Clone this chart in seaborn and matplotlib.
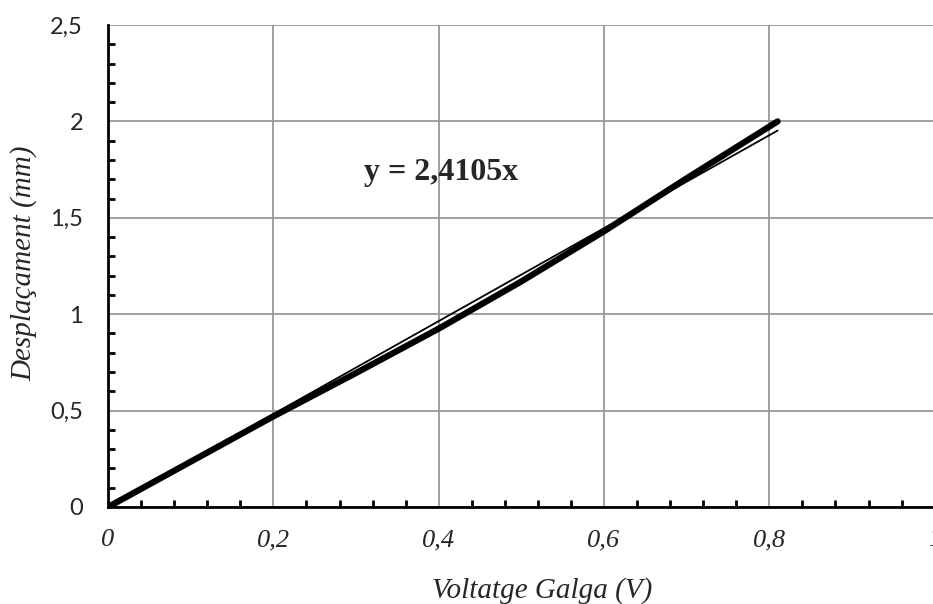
import matplotlib
matplotlib.use("Agg")
import matplotlib.pyplot as plt
from matplotlib.ticker import MultipleLocator, FuncFormatter
import pandas as pd
import seaborn as sns

voltage = [0.0, 0.1, 0.2, 0.3, 0.4, 0.5, 0.6, 0.7, 0.81]
displacement = [0.0, 0.235, 0.47, 0.695, 0.925, 1.17, 1.43, 1.705, 2.0]
slope = 2.4105
equation = "y = 2,4105x"

df = pd.DataFrame({"V": voltage, "mm": displacement})
trend = pd.DataFrame({"V": [0.0, max(voltage)]})
trend["mm"] = slope * trend["V"]

sns.set_style("white")
fig = plt.figure(figsize=(9.33, 6.04), dpi=100)
ax = fig.add_axes([0.1158, 0.1606, 0.886, 0.798])

sns.lineplot(data=df, x="V", y="mm", ax=ax, color="black", linewidth=4.5,
             solid_capstyle="round", zorder=4)
sns.lineplot(data=trend, x="V", y="mm", ax=ax, color="black", linewidth=1.3, zorder=5)

ax.set_xlim(0, 1)
ax.set_ylim(0, 2.5)
ax.xaxis.set_major_locator(MultipleLocator(0.2))
ax.xaxis.set_minor_locator(MultipleLocator(0.04))
ax.yaxis.set_major_locator(MultipleLocator(0.5))
ax.yaxis.set_minor_locator(MultipleLocator(0.1))

comma = FuncFormatter(lambda v, p: f"{v:g}".replace(".", ","))
ax.xaxis.set_major_formatter(comma)
ax.yaxis.set_major_formatter(comma)

ax.grid(True, which="major", color="#999999", linewidth=1.3)
ax.set_axisbelow(True)
for s in ["top", "right"]:
    ax.spines[s].set_visible(False)
for s in ["left", "bottom"]:
    ax.spines[s].set_color("black")
    ax.spines[s].set_linewidth(2)
    ax.spines[s].set_zorder(6)

ax.tick_params(which="major", direction="inout", length=10, width=2, color="black")
ax.tick_params(which="minor", direction="in", length=5, width=2, color="black",
               bottom=True, left=True)
ax.tick_params(axis="x", which="major", pad=11)
ax.tick_params(axis="y", which="major", pad=13)

for lbl in ax.get_xticklabels():
    lbl.set_fontfamily("Liberation Serif")
    lbl.set_fontstyle("italic")
    lbl.set_fontsize(19)
for lbl in ax.get_yticklabels():
    lbl.set_fontfamily("Lato")
    lbl.set_fontsize(17)

ax.set_xlabel("Voltatge Galga (V)", family="Liberation Serif", style="italic",
              fontsize=21)
ax.set_ylabel("Desplaçament (mm)", family="Liberation Serif", style="italic",
              fontsize=21)
ax.xaxis.set_label_coords(0.525, -0.145)
ax.yaxis.set_label_coords(-0.086, 0.505)

ax.text(0.4024, 1.736, equation, family="Liberation Serif", weight="bold",
        fontsize=23, ha="center", va="center")

fig.savefig("out.png", dpi=100)
